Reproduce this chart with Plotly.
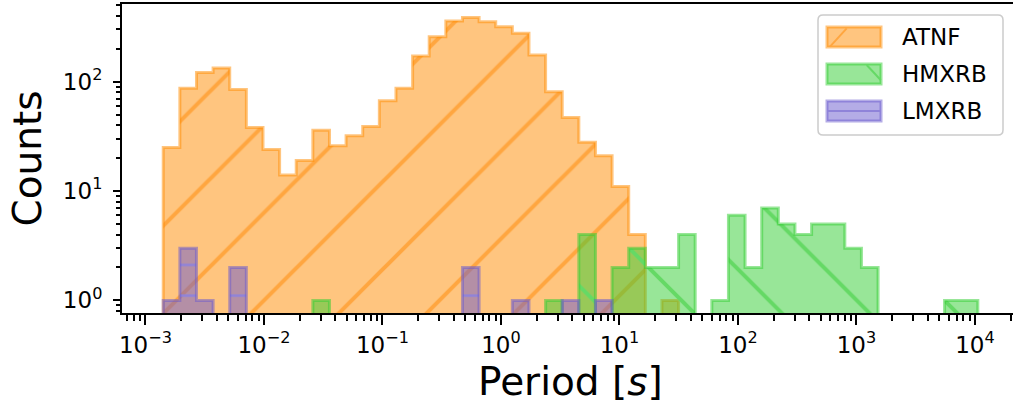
import numpy as np
import plotly.graph_objects as go

# ---------------- data ----------------
# shared logarithmic bins (log10 of first / last edge, number of edges)
BIN_LOG_MIN = -2.850
BIN_LOG_MAX = 4.024
N_EDGES = 50

atnf_counts = [25, 87, 121, 133, 85, 38, 24, 14, 19, 36,
               26, 32, 39, 67, 87, 172, 258, 358, 387, 353,
               318, 277, 175, 81, 47, 28, 21, 11, 4, 0,
               1, 0, 0, 0, 0, 0, 0, 0, 0, 0,
               0, 0, 0, 0, 0, 0, 0, 0, 0]
hmxrb_counts = [0, 0, 0, 0, 0, 0, 0, 0, 0, 1,
                0, 0, 0, 0, 0, 0, 0, 0, 0, 0,
                0, 0, 0, 1, 0, 4, 0, 2, 3, 2,
                2, 4, 0, 1, 6, 2, 7, 5, 4, 5,
                5, 3, 2, 0, 0, 0, 0, 1, 1]
lmxrb_counts = [1, 3, 1, 0, 2, 0, 0, 0, 0, 0,
                0, 0, 0, 0, 0, 0, 0, 0, 2, 0,
                0, 1, 0, 0, 1, 0, 1, 0, 0, 0,
                0, 0, 0, 0, 0, 0, 0, 0, 0, 0,
                0, 0, 0, 0, 0, 0, 0, 0, 0]

series_names = ["ATNF", "HMXRB", "LMXRB"]
x_tick_vals = [1e-3, 1e-2, 1e-1, 1e0, 1e1, 1e2, 1e3, 1e4]
x_tick_text = ["10<sup>\u22123</sup>", "10<sup>\u22122</sup>", "10<sup>\u22121</sup>",
               "10<sup>0</sup>", "10<sup>1</sup>", "10<sup>2</sup>",
               "10<sup>3</sup>", "10<sup>4</sup>"]
y_tick_vals = [1, 10, 100]
y_tick_text = ["10<sup>0</sup>", "10<sup>1</sup>", "10<sup>2</sup>"]

# ---------------- styling ----------------
COLORS = {"ATNF": (255, 140, 0), "HMXRB": (50, 205, 50), "LMXRB": (106, 90, 205)}
HATCH_COLORS = {"ATNF": "rgb(255,166,64)", "HMXRB": "rgb(101,217,101)", "LMXRB": "rgb(143,131,217)"}
HATCH = {"ATNF": ("/", 62, 0.065), "HMXRB": ("\\", 62, 0.065), "LMXRB": ("-", 30.7, 0.08)}
FONT = "DejaVu Sans"

W, H = 1013, 410
ML, MT, MB, MR = 122, 4, 97, 0
PW, PH = W - ML - MR, H - MT - MB
X_RANGE = [-3.198, 4.321]
Y_RANGE = [-0.115, 2.710]
BOTTOM = 0.1  # below visible range


def rgba(c, a):
    return f"rgba({c[0]},{c[1]},{c[2]},{a})"


def fx(px):
    return (px - ML) / PW


def fy(py):
    return (H - MB - py) / PH


edges = np.logspace(BIN_LOG_MIN, BIN_LOG_MAX, N_EDGES)


def step_polygon(counts):
    xs, ys = [edges[0]], [BOTTOM]
    for k, c in enumerate(counts):
        h = c if c > 0 else BOTTOM
        xs += [edges[k], edges[k + 1]]
        ys += [h, h]
    xs.append(edges[-1])
    ys.append(BOTTOM)
    return xs, ys


fig = go.Figure()
for name, counts in zip(series_names, [atnf_counts, hmxrb_counts, lmxrb_counts]):
    c = COLORS[name]
    shp, size, sol = HATCH[name]
    xs, ys = step_polygon(counts)
    fig.add_trace(go.Scatter(
        x=xs, y=ys, mode="lines", fill="toself", name=name,
        line=dict(color=rgba(c, 0.5), width=3),
        fillcolor=rgba(c, 0.5),
        fillpattern=dict(shape=shp, size=size, solidity=sol,
                         bgcolor=rgba(c, 0.5), fgcolor=HATCH_COLORS[name],
                         fgopacity=1, fillmode="overlay"),
        showlegend=False, hoverinfo="skip",
    ))

minor_x = [m * 10.0 ** e for e in range(-4, 5) for m in range(2, 10)]
minor_y = [m * 10.0 ** e for e in range(-1, 3) for m in range(2, 10)]

fig.update_xaxes(
    type="log", range=X_RANGE, showgrid=False, zeroline=False,
    showline=True, linecolor="black", linewidth=2, mirror=True,
    ticks="outside", ticklen=10, tickwidth=2, tickcolor="black",
    tickmode="array", tickvals=x_tick_vals, ticktext=x_tick_text,
    tickfont=dict(family=FONT, size=23, color="black"),
    minor=dict(ticks="outside", ticklen=6, tickwidth=1.5, tickcolor="black",
               tickmode="array", tickvals=minor_x, showgrid=False),
)
fig.update_yaxes(
    type="log", range=Y_RANGE, showgrid=False, zeroline=False,
    showline=True, linecolor="black", linewidth=2, mirror=False,
    ticks="outside", ticklen=7, tickwidth=2, tickcolor="black",
    tickmode="array", tickvals=y_tick_vals, ticktext=y_tick_text,
    tickfont=dict(family=FONT, size=23, color="black"),
    ticklabelstandoff=6,
    minor=dict(ticks="outside", ticklen=4, tickwidth=1.5, tickcolor="black",
               tickmode="array", tickvals=minor_y, showgrid=False),
)

annotations = [
    dict(text="Period [<i>s</i>]", x=fx(570), y=fy(382), xref="paper", yref="paper",
         xanchor="center", yanchor="middle", showarrow=False,
         font=dict(family=FONT, size=39, color="black")),
    dict(text="Counts", x=fx(27), y=fy(158.5), xref="paper", yref="paper",
         xanchor="center", yanchor="middle", showarrow=False, textangle=-90,
         font=dict(family=FONT, size=39, color="black")),
]

# ---------------- custom legend ----------------
shapes = []
bx0, bx1, by0, by1, r = 818, 1003, 15, 135, 5
path = (f"M {fx(bx0 + r)},{fy(by0)} L {fx(bx1 - r)},{fy(by0)} "
        f"Q {fx(bx1)},{fy(by0)} {fx(bx1)},{fy(by0 + r)} "
        f"L {fx(bx1)},{fy(by1 - r)} Q {fx(bx1)},{fy(by1)} {fx(bx1 - r)},{fy(by1)} "
        f"L {fx(bx0 + r)},{fy(by1)} Q {fx(bx0)},{fy(by1)} {fx(bx0)},{fy(by1 - r)} "
        f"L {fx(bx0)},{fy(by0 + r)} Q {fx(bx0)},{fy(by0)} {fx(bx0 + r)},{fy(by0)} Z")
shapes.append(dict(type="path", path=path, xref="paper", yref="paper",
                   fillcolor="rgba(255,255,255,0.8)", line=dict(color="rgb(204,204,204)", width=1.5),
                   layer="above"))
rows = [37, 74, 111]
px0, px1 = 827, 881
for name, ry in zip(series_names, rows):
    c = COLORS[name]
    shapes.append(dict(type="rect", xref="paper", yref="paper",
                       x0=fx(px0), x1=fx(px1), y0=fy(ry - 10), y1=fy(ry + 10),
                       fillcolor=rgba(c, 0.5), line=dict(color=rgba(c, 0.5), width=3),
                       layer="above"))
    if name == "ATNF":
        hx = (830, 846.7, ry + 9.7, ry - 8.7)
    elif name == "HMXRB":
        hx = (866.7, 880.7, ry - 9, ry + 6)
    else:
        hx = (px0, px1, ry, ry)
    shapes.append(dict(type="line", xref="paper", yref="paper",
                       x0=fx(hx[0]), x1=fx(hx[1]), y0=fy(hx[2]), y1=fy(hx[3]),
                       line=dict(color=HATCH_COLORS[name], width=2), layer="above"))
    annotations.append(dict(text=name, x=fx(900), y=fy(ry), xref="paper", yref="paper",
                            xanchor="left", yanchor="middle", showarrow=False,
                            font=dict(family=FONT, size=23, color="black")))

fig.update_layout(
    width=W, height=H, margin=dict(l=ML, r=MR, t=MT, b=MB, pad=0),
    paper_bgcolor="white", plot_bgcolor="white",
    showlegend=False, shapes=shapes, annotations=annotations,
    font=dict(family=FONT, color="black"),
)

fig.write_html("out.html")
